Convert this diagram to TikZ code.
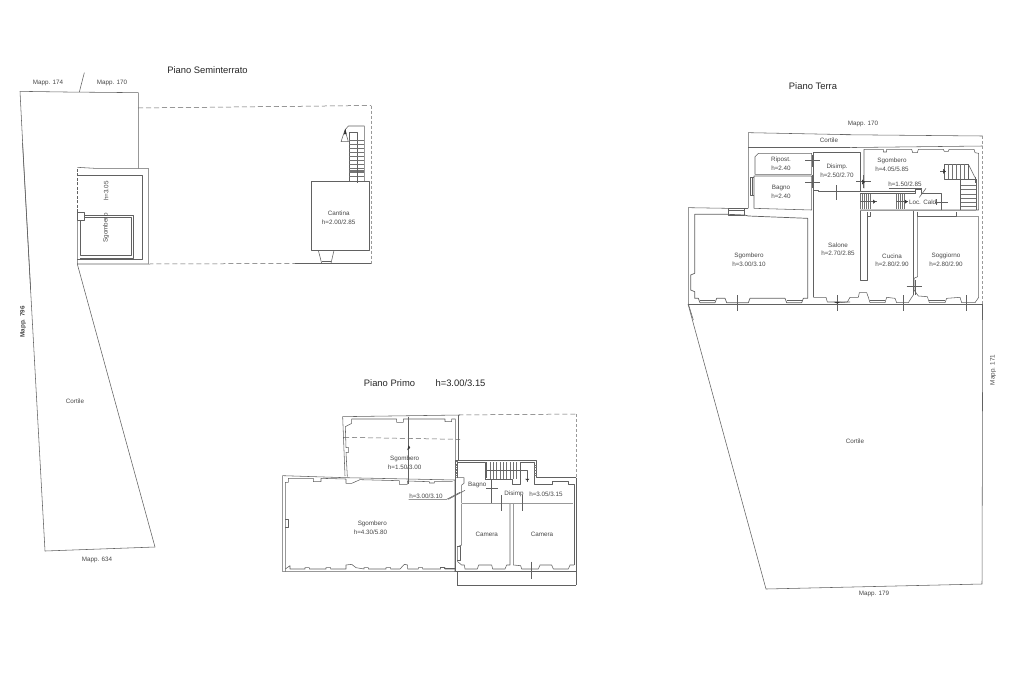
\documentclass[tikz,border=0pt]{standalone}
\usepackage{fontspec}
\setmainfont{Liberation Sans}
\tikzset{
  wall/.style={draw=black!62,line width=0.55pt,line join=round},
  thin wall/.style={draw=black!55,line width=0.4pt,line join=round},
  band/.style={draw=black!40,line width=1.3pt},
  dash line/.style={draw=black!62,line width=0.5pt,dash pattern=on 5pt off 3pt},
  gray dash/.style={draw=black!40,line width=0.7pt,dash pattern=on 3pt off 2pt},
  title/.style={font=\fontsize{9.4}{10}\selectfont,text=black!85,inner sep=0pt},
  lab/.style={font=\fontsize{6.3}{7}\selectfont,text=black!72,inner sep=0pt},
  tip/.style={draw=black!80,fill=black!80,line width=0.3pt},
}
\begin{document}
\begin{tikzpicture}[x=1pt,y=-1pt]
\useasboundingbox (0,0) rectangle (1024,683);
\fill[white] (0,0) rectangle (1024,683);

%% ---------- Piano Seminterrato
\begin{scope}[shift={(0,50)},scale=1/3]
\draw[wall] (60,124) -- (195,126) -- (415,128) -- (415,355);
\draw[wall] (60,124) -- (68,280) -- (92,720);
\draw[wall] (253,68) -- (238,126);
\draw[wall] (232,352) -- (285,355) -- (445,355) -- (445,642) -- (232,642) -- (232,511);
\draw[wall,dash pattern=on 3pt off 1.5pt] (232,487) -- (232,352);
\draw[wall] (232,375) -- (427,375) -- (427,628) -- (232,628);
\draw[wall] (232,495) -- (400,495) -- (400,625) -- (240,625);
\draw[wall] (240,511) -- (240,617) -- (394,617) -- (394,502) -- (253,502);
\draw[wall,fill=white] (232,487) rectangle (253,511);
\end{scope}
\draw[wall] (22.5,143) -- (45,551) -- (155,547) -- (77.3,264);
\draw[dash line] (138,108) -- (371,105.5);
\draw[dash line] (148.3,264) -- (295,263.5);
\draw[wall] (295,263.5) -- (371,263.5);
\draw[gray dash] (371,105.5) -- (371,263.5);

\begin{scope}[shift={(270,90)},scale=1/3]
\draw[wall] (124,273) rectangle (297,481);
\draw[wall] (145,481) -- (155,520) -- (183,520) -- (192,481);
\draw[wall] (155,514) -- (183,514);
\draw[wall] (238,273) -- (238,128) -- (262,128) -- (262,273);
\draw[wall] (283,273) -- (283,108) -- (235,108) -- (225,120);
\draw[wall] (225,120) -- (213,155) -- (235,155) -- (225,120);
\foreach \yy in {152,164,176,188,200,212,224,236,240,244,248,258} \draw[thin wall] (238,\yy) -- (283,\yy);
\draw[wall] (262,228) -- (262,278);
\draw[tip] (226,118) -- (222,132) -- (229,132) -- cycle;
\end{scope}

\node[title] (t1) at (207.5,70.5) {Piano Seminterrato};
\node[lab] (m174) at (48,82.5) {Mapp. 174};
\node[lab] (m170) at (112,83) {Mapp. 170};
\node[lab,rotate=90] (rh) at (106,191) {h=3.05};
\node[lab,rotate=90] (rs) at (106,228) {Sgombero};
\node[lab] (can) at (338.7,213) {Cantina};
\node[lab] (canh) at (338.7,222) {h=2.00/2.85};
\node[lab,rotate=90,font=\fontsize{6.3}{7}\selectfont\bfseries] (m796) at (23,322) {Mapp. 796};
\node[lab] (c1) at (75,401) {Cortile};
\node[lab] (m634) at (97,560) {Mapp. 634};

%% ---------- Piano Primo
\begin{scope}[shift={(270,405)},scale=1/3]
% upper room
\draw[wall] (225,213) -- (218,35) -- (570,30);
\draw[wall] (232,215) -- (228,142) -- (236,142) -- (236,128) -- (228,128) -- (226,65) -- (245,55) -- (245,42) -- (380,42) -- (380,52) -- (400,52) -- (400,42) -- (525,42) -- (525,50) -- (545,50) -- (545,42) -- (556,42) -- (556,215);
\draw[dash line] (222,97) -- (570,103);
\draw[wall] (414,35) -- (414,238);
\draw[tip] (416,122) -- (413,134) -- (420,128) -- cycle;
% big room
\draw[wall] (225,218) -- (555,225) -- (555,500) -- (38,500) -- (38,212) -- (225,218);
\draw[wall] (46,500) -- (46,232) -- (55,232) -- (55,220) -- (130,220) -- (130,230) -- (153,230) -- (153,220) -- (228,222) -- (228,235) -- (245,235) -- (270,224) -- (388,227) -- (388,238) -- (412,238) -- (412,228) -- (478,230) -- (478,234) -- (493,234) -- (493,230) -- (548,230);
\draw[wall] (46,342) -- (56,342) -- (56,368) -- (46,368);
\draw[wall] (46,492) -- (60,482) -- (60,492) -- (105,492) -- (105,488) -- (118,488) -- (118,492) -- (168,492) -- (168,488) -- (182,488) -- (182,492) -- (228,492) -- (228,480) -- (245,478) -- (258,488) -- (282,492) -- (282,488) -- (295,488) -- (295,492) -- (348,492) -- (348,488) -- (362,488) -- (362,492) -- (390,492) -- (403,478) -- (413,480) -- (413,492) -- (445,492) -- (445,488) -- (458,488) -- (458,492) -- (512,492) -- (512,488) -- (525,488) -- (525,492) -- (555,492);
\draw[wall] (555,165) -- (568,165);
\foreach \yy in {170,178,186,194,202,210} \draw[thin wall] (555,\yy) -- (565,\yy);
% leader and label underline
\draw[wall] (416,283) -- (530,283) -- (570,262);
\draw[wall] (562,425) -- (572,425) -- (572,465) -- (562,465);
\draw[wall] (562,500) -- (562,540);
\end{scope}
\begin{scope}[shift={(440,405)},scale=1/3]
\draw[wall] (56,30) -- (56,165);
\draw[dash line] (55,30) -- (408,27);
\draw[gray dash] (408,27) -- (408,218);
\draw[wall] (45,165) -- (290,165) -- (290,218) -- (408,218);
\draw[wall] (45,165) -- (45,500) -- (52,500);
\draw[wall] (52,220) -- (52,172) -- (135,172) -- (135,222);
\draw[wall] (45,218) -- (72,218) -- (72,235) -- (65,240) -- (65,295);
\draw[wall] (135,222) -- (216,222) -- (216,238) -- (242,238) -- (242,172) -- (282,172) -- (282,238) -- (338,238) -- (338,228) -- (385,228) -- (385,238) -- (402,238) -- (402,480);
\draw[wall] (140,172) -- (140,220);
\foreach \xx in {150,160,170,180,190,200,210,220,230} \draw[thin wall] (\xx,172) -- (\xx,222);
\draw[wall] (140,196) -- (262,196) -- (262,232);
\draw[tip] (257,222) -- (267,222) -- (262,226) -- cycle;
\draw[wall] (52,498) -- (408,498);
\draw[wall] (52,498) -- (52,540);
\draw[wall] (408,218) -- (408,540);
\draw[wall,line width=0.9pt] (52,540) -- (408,540);
\foreach \yy in {180,188,196,204,212} \draw[thin wall] (45,\yy) -- (52,\yy);
\foreach \yy in {180,188,196,204,212} \draw[thin wall] (282,\yy) -- (290,\yy);
\draw[wall] (155,225) -- (155,295);
\draw[wall] (138,250) -- (175,250);
\draw[band] (65,295) -- (400,295);
\draw[wall] (183,270) -- (183,318);
\draw[wall] (247,270) -- (247,318);
\draw[wall] (274,470) -- (274,522);
% cameras
\draw[wall] (65,297) -- (65,420) -- (53,425) -- (53,470) -- (65,480) -- (73,480) -- (75,492) -- (112,492) -- (116,480) -- (155,480) -- (158,492) -- (195,492) -- (200,480) -- (210,480) -- (210,297);
\draw[wall] (220,297) -- (220,480) -- (242,482) -- (245,492) -- (295,492) -- (300,480) -- (335,480) -- (340,492) -- (385,492) -- (390,480) -- (402,480);
\draw[wall] (45,490) -- (12,490) -- (12,487) -- (0,487);
\draw[wall] (75,256) -- (25,283);
\end{scope}
\node[title] (t2) at (389.5,383.5) {Piano Primo};
\node[title] (t2h) at (460.5,383.5) {h=3.00/3.15};
\node[lab] (p1) at (404.7,459.3) {Sgombero};
\node[lab] (p2) at (404.7,467.7) {h=1.50/3.00};
\node[lab] (p3) at (372.3,524.3) {Sgombero};
\node[lab] (p4) at (370.5,532.3) {h=4.30/5.80};
\node[lab] (p5) at (426,496.3) {h=3.00/3.10};
\node[lab] (p6) at (477.3,485) {Bagno};
\node[lab] (p7) at (514,494) {Disimp};
\node[lab] (p8) at (546,494) {h=3.05/3.15};
\node[lab] (p9) at (486.7,534.3) {Camera};
\node[lab] (p10) at (542,534.3) {Camera};

%% ---------- Piano Terra
\begin{scope}[shift={(680,120)},scale=1/3]
\draw[wall] (205,265) -- (205,38) -- (510,44);
\draw[wall] (205,83) -- (510,83);
\draw[wall] (25,552) -- (25,263) -- (145,265);
\draw[wall] (145,265) rectangle (193,285);
\draw[wall] (145,272) -- (193,272);
\draw[wall] (193,265) -- (205,265);
\draw[wall] (25,552) -- (510,552);
\draw[wall] (25,552) -- (40,600);
% left room
\draw[wall,line width=0.7pt] (44,283) -- (44,460) -- (32,465) -- (32,510) -- (44,515) -- (44,535) -- (55,535) -- (60,548) -- (105,548) -- (110,535) -- (135,535) -- (140,548) -- (205,548) -- (210,535) -- (315,535) -- (320,548) -- (365,548) -- (370,535) -- (383,535) -- (383,295) -- (205,288) -- (193,285) -- (145,283) -- cycle;
\draw[wall] (60,542) -- (105,542);
\draw[wall] (320,542) -- (365,542);
% ripost / bagno
\draw[wall] (235,100) -- (225,110) -- (225,163) -- (395,163) -- (395,100) -- cycle;
\draw[wall] (222,168) -- (222,265) -- (395,270) -- (395,168) -- cycle;
\draw[wall] (222,172) -- (212,172) -- (212,225) -- (222,225);
\draw[wall] (217,172) -- (217,225);
% disimp / salone
\draw[wall] (400,532) -- (400,98) -- (510,98);
\draw[wall] (400,210) -- (415,210) -- (415,215) -- (510,215);
\draw[wall] (400,532) -- (438,532) -- (442,546) -- (510,546);
\draw[wall] (375,122) -- (420,122);
\draw[wall] (397,105) -- (397,140);
\draw[wall] (375,187) -- (420,187);
\draw[wall] (397,165) -- (397,205);
\draw[wall] (470,195) -- (470,240);
\draw[wall] (173,525) -- (173,574);
\draw[wall] (472,525) -- (472,574);
\draw[tip] (463,546) -- (480,546) -- (472,550) -- cycle;
\end{scope}
\begin{scope}[shift={(840,120)},scale=1/3]
\draw[wall] (0,44) -- (428,48);
\draw[wall] (0,83) -- (428,78);
\draw[gray dash] (428,48) -- (428,552);
\draw[wall] (428,552) -- (428,600);
\draw[wall] (0,552) -- (428,552);
\draw[wall] (0,98) -- (62,98) -- (62,215) -- (0,215);
% sgombero
\draw[wall] (72,205) -- (72,88) -- (130,88) -- (130,96) -- (140,96) -- (140,88) -- (215,88) -- (218,98) -- (232,98) -- (235,88) -- (310,88) -- (313,94) -- (325,94) -- (327,88) -- (402,88) -- (405,98) -- (416,100) -- (416,270) -- (60,270);
\draw[wall] (60,220) -- (225,220) -- (225,208) -- (245,208) -- (245,220) -- (305,220) -- (305,270);
\draw[wall] (60,215) -- (225,215);
% stairs
\draw[wall] (312,133) -- (385,133) -- (385,178) -- (312,178) -- cycle;
\foreach \xx in {325,337,349,361,373} \draw[thin wall] (\xx,133) -- (\xx,178);
\draw[wall] (362,178) -- (362,270);
\draw[wall] (408,178) -- (408,270);
\draw[wall] (385,133) -- (408,178);
\draw[wall] (362,178) -- (408,178);
\foreach \yy in {195,208,222,235,248,260} \draw[thin wall] (362,\yy) -- (408,\yy);
\draw[wall] (300,153) -- (318,153);
\draw[tip] (310,148) -- (310,160) -- (316,154) -- cycle;
\draw[wall] (405,170) -- (405,190);
% cross marks
\draw[wall] (48,185) -- (92,185);
\draw[wall] (70,165) -- (70,205);
\draw[tip] (67,180) -- (67,192) -- (74,186) -- cycle;
% little stairs
\foreach \xx in {60,66,72,78,84,90} \draw[thin wall] (\xx,222) -- (\xx,268);
\foreach \xx in {170,176,182,188,194} \draw[thin wall] (\xx,222) -- (\xx,268);
\draw[wall] (60,245) -- (112,245);
\draw[tip] (100,240) -- (100,250) -- (106,245) -- cycle;
\draw[wall] (168,245) -- (205,245);
\draw[tip] (195,240) -- (195,250) -- (202,245) -- cycle;
\draw[wall] (285,247) -- (325,247);
\draw[wall] (290,238) -- (290,256);
% label leader
\draw[wall] (146,204) -- (245,204);
\draw[wall] (238,232) -- (258,205);
% cucina, soggiorno
\draw[band,line width=1pt] (60,272) -- (408,272);
\draw[wall] (60,272) -- (60,480) -- (82,480) -- (82,275);
\draw[wall] (82,288) -- (90,288) -- (90,275);
\draw[wall] (220,272) -- (220,525);
\draw[wall] (233,275) -- (233,290) -- (350,290) -- (350,275);
\draw[wall] (350,290) -- (416,290) -- (416,532) -- (405,548);
\draw[wall] (233,290) -- (233,470) -- (222,475) -- (222,510) -- (235,528) -- (262,530) -- (268,548) -- (315,548) -- (320,535) -- (360,532) -- (365,548) -- (405,548);
\draw[wall] (268,542) -- (315,542);
\draw[wall] (200,500) -- (245,500);
\draw[wall] (225,480) -- (225,525);
\draw[wall] (0,548) -- (22,546) -- (30,532) -- (55,532) -- (58,518) -- (80,518) -- (85,532) -- (90,548) -- (135,548) -- (140,532) -- (165,535) -- (170,548) -- (205,548) -- (215,532) -- (220,525);
\draw[wall] (90,542) -- (135,542);
\draw[wall] (190,525) -- (190,574);
\draw[wall] (380,525) -- (380,574);
\end{scope}
\draw[wall] (688,304) -- (766,589) -- (982,584) -- (982.7,320);
\node[title] (t3) at (813,86.5) {Piano Terra};
\node[lab] (q1) at (863,124) {Mapp. 170};
\node[lab] (q2) at (829,140.5) {Cortile};
\node[lab] (q3) at (781,160) {Ripost.};
\node[lab] (q4) at (781,168.5) {h=2.40};
\node[lab] (q5) at (781,188) {Bagno};
\node[lab] (q6) at (781,196) {h=2.40};
\node[lab] (q7) at (837,167) {Disimp.};
\node[lab] (q8) at (837,175) {h=2.50/2.70};
\node[lab] (q9) at (892,161) {Sgombero};
\node[lab] (q10) at (892,169) {h=4.05/5.85};
\node[lab] (q11) at (905,184.5) {h=1.50/2.85};
\node[lab] (q12) at (923.5,202.5) {Loc. Cald.};
\node[lab] (q13) at (838,245) {Salone};
\node[lab] (q14) at (838,253) {h=2.70/2.85};
\node[lab] (q15) at (749,256) {Sgombero};
\node[lab] (q16) at (749,264) {h=3.00/3.10};
\node[lab] (q17) at (892,256) {Cucina};
\node[lab] (q18) at (892,264) {h=2.80/2.90};
\node[lab] (q19) at (946,256) {Soggiorno};
\node[lab] (q20) at (946,264) {h=2.80/2.90};
\node[lab,rotate=90] (q21) at (993,370) {Mapp. 171};
\node[lab] (q22) at (855,441) {Cortile};
\node[lab] (q23) at (874,593.5) {Mapp. 179};
\end{tikzpicture}
\end{document}
